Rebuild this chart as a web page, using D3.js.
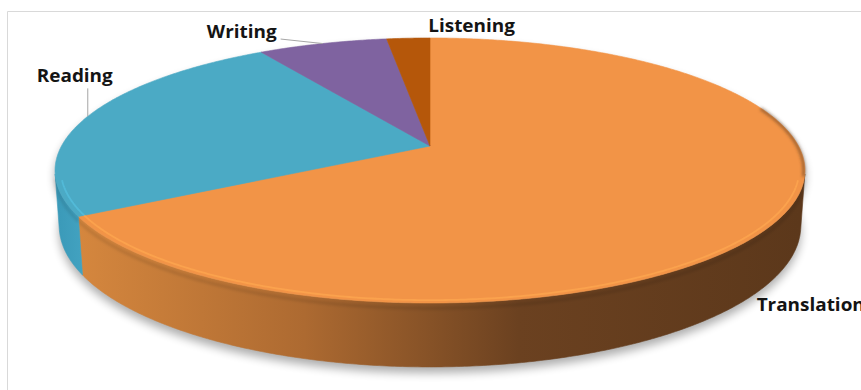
<!DOCTYPE html>
<html>
<head>
<meta charset="utf-8">
<script src="https://cdn.jsdelivr.net/npm/d3@7"></script>
<style>
  html, body { margin: 0; padding: 0; background: #fff; overflow: hidden; }
  text { font-family: "Open Sans", "Liberation Sans", sans-serif; font-weight: 700; }
</style>
</head>
<body>
<svg id="chart" width="861" height="390"></svg>
<script>
// Skill areas and their counts, clockwise from 12 o'clock
const categories = ["Translation", "Reading", "Writing", "Listening"];
const values = [60, 22, 6, 2];
const topColors = ["#F29447", "#4BAAC5", "#7F63A0", "#B5570A"];

const width = 861, height = 390;
const svg = d3.select("#chart");

// Perspective camera for the tilted disc
const cx = 430, cy = 146;
const focal = 1868.6, dist = 1, R = 0.1972, thick = 0.0311;
const tilt = Math.asin(0.3473);
const ca = Math.cos(tilt), sa = Math.sin(tilt);
function proj(phi, r, h) {
  const X = r * Math.sin(phi), Z = r * Math.cos(phi);
  const D = dist + Z * ca - h * sa;
  const u = Z * sa + h * ca;
  return [cx + focal * X / D, cy - focal * u / D];
}
function rim(a0, a1, r, h) {
  const n = Math.max(2, Math.ceil(Math.abs(a1 - a0) / (Math.PI / 360)));
  return d3.range(n + 1).map(i => proj(a0 + (a1 - a0) * i / n, r, h));
}
const line = d3.line();
const closed = pts => line(pts) + "Z";

// Angular range where the outer wall faces the camera
const vis0 = Math.acos(-R / ca), vis1 = 2 * Math.PI - vis0;

const arcs = d3.pie().sort(null).value(d => d)(values);

const defs = svg.append("defs");
const blur = (id, sd) => defs.append("filter").attr("id", id)
  .attr("x", "-20%").attr("y", "-20%").attr("width", "140%").attr("height", "140%")
  .append("feGaussianBlur").attr("stdDeviation", sd);
blur("shadowBlur", 5);
blur("softBlur", 1.6);
blur("tinyBlur", 0.7);

const sideGrad = defs.append("linearGradient").attr("id", "side0")
  .attr("gradientUnits", "userSpaceOnUse").attr("x1", 60).attr("x2", 800).attr("y1", 0).attr("y2", 0);
[[0, "#D8893F"], [0.33, "#AD6A31"], [0.62, "#6B4120"], [1, "#5C381B"]]
  .forEach(([o, c]) => sideGrad.append("stop").attr("offset", o).attr("stop-color", c));
const sideGrad1 = defs.append("linearGradient").attr("id", "side1")
  .attr("gradientUnits", "userSpaceOnUse").attr("x1", 55).attr("x2", 85).attr("y1", 0).attr("y2", 0);
[[0, "#3A99B8"], [1, "#43A3C1"]]
  .forEach(([o, c]) => sideGrad1.append("stop").attr("offset", o).attr("stop-color", c));

// Chart area frame
svg.append("path").attr("d", `M7.5,${height + 5}V11.5H${width + 5}`)
  .attr("fill", "none").attr("stroke", "#D9D9D9").attr("stroke-width", 1);

// Soft drop shadow under the whole disc
const shadow = svg.append("g").attr("filter", "url(#shadowBlur)")
  .attr("transform", "translate(0,6)").attr("opacity", 0.32);
shadow.append("path").attr("d", closed(rim(0, 2 * Math.PI, R, -thick))).attr("fill", "#000");
shadow.append("path").attr("d", closed(rim(0, 2 * Math.PI, R, 0))).attr("fill", "#000");

// Outer walls
arcs.forEach((a, i) => {
  const s = Math.max(a.startAngle, vis0), e = Math.min(a.endAngle, vis1);
  if (e <= s) return;
  const pts = rim(s, e, R, 0).concat(rim(e, s, R, -thick));
  svg.append("path").attr("d", closed(pts))
    .attr("fill", i < 2 ? `url(#side${i})` : d3.color(topColors[i]).darker(0.6))
    .attr("stroke", i < 2 ? `url(#side${i})` : d3.color(topColors[i]).darker(0.6))
    .attr("stroke-width", 0.6);
  // darker band just under the rim
  svg.append("path").attr("d", line(rim(s, e, R, -thick * 0.08)))
    .attr("fill", "none").attr("stroke", "#000").attr("stroke-opacity", 0.12)
    .attr("stroke-width", 3).attr("filter", "url(#softBlur)");
});

// Top faces
arcs.forEach((a, i) => {
  const pts = [proj(0, 0, 0)].concat(rim(a.startAngle, a.endAngle, R, 0));
  svg.append("path").attr("d", closed(pts))
    .attr("fill", topColors[i]).attr("stroke", topColors[i]).attr("stroke-width", 0.6);
});

// Bevel: highlight along the front edge, shading on the right edge
arcs.forEach((a, i) => {
  const s = Math.max(a.startAngle, vis0 + 0.05), e = Math.min(a.endAngle, vis1 - 0.05);
  if (e <= s) return;
  svg.append("path").attr("d", line(rim(s, e, R * 0.985, 0)))
    .attr("fill", "none").attr("stroke", d3.color(topColors[i]).brighter(0.35))
    .attr("stroke-width", 1.8).attr("stroke-opacity", 0.7).attr("filter", "url(#tinyBlur)");
});
svg.append("path").attr("d", line(rim(Math.PI * 0.4, vis0 + 0.02, R * 0.997, 0)))
  .attr("fill", "none").attr("stroke", "#5C381B").attr("stroke-width", 3)
  .attr("stroke-opacity", 0.55).attr("filter", "url(#softBlur)");

// Data labels with leader lines
const labelOffsets = [[-25, 94, "start"], [-13, -34, "middle"], [-46, -5.5, "end"], [20, -6, "start"]];
const leaders = [null, [[0, 0], [0, -28]], [[0, 0], [-42, -4.5]], null];
arcs.forEach((a, i) => {
  const mid = (a.startAngle + a.endAngle) / 2;
  const [ax, ay] = proj(mid, R, 0);
  if (leaders[i]) {
    svg.append("path").attr("d", line(leaders[i].map(([dx, dy]) => [ax + dx, ay + dy])))
      .attr("fill", "none").attr("stroke", "#A6A6A6").attr("stroke-width", 1);
  }
  const [dx, dy, anchor] = labelOffsets[i];
  const tx = ax + dx, ty = ay + dy;
  svg.append("text").attr("x", 0).attr("y", 0)
    .attr("transform", `translate(${tx},${ty}) scale(1.1,1)`)
    .attr("text-anchor", anchor).attr("font-size", 17.2).attr("fill", "#141414")
    .text(categories[i]);
});
</script>
</body>
</html>
